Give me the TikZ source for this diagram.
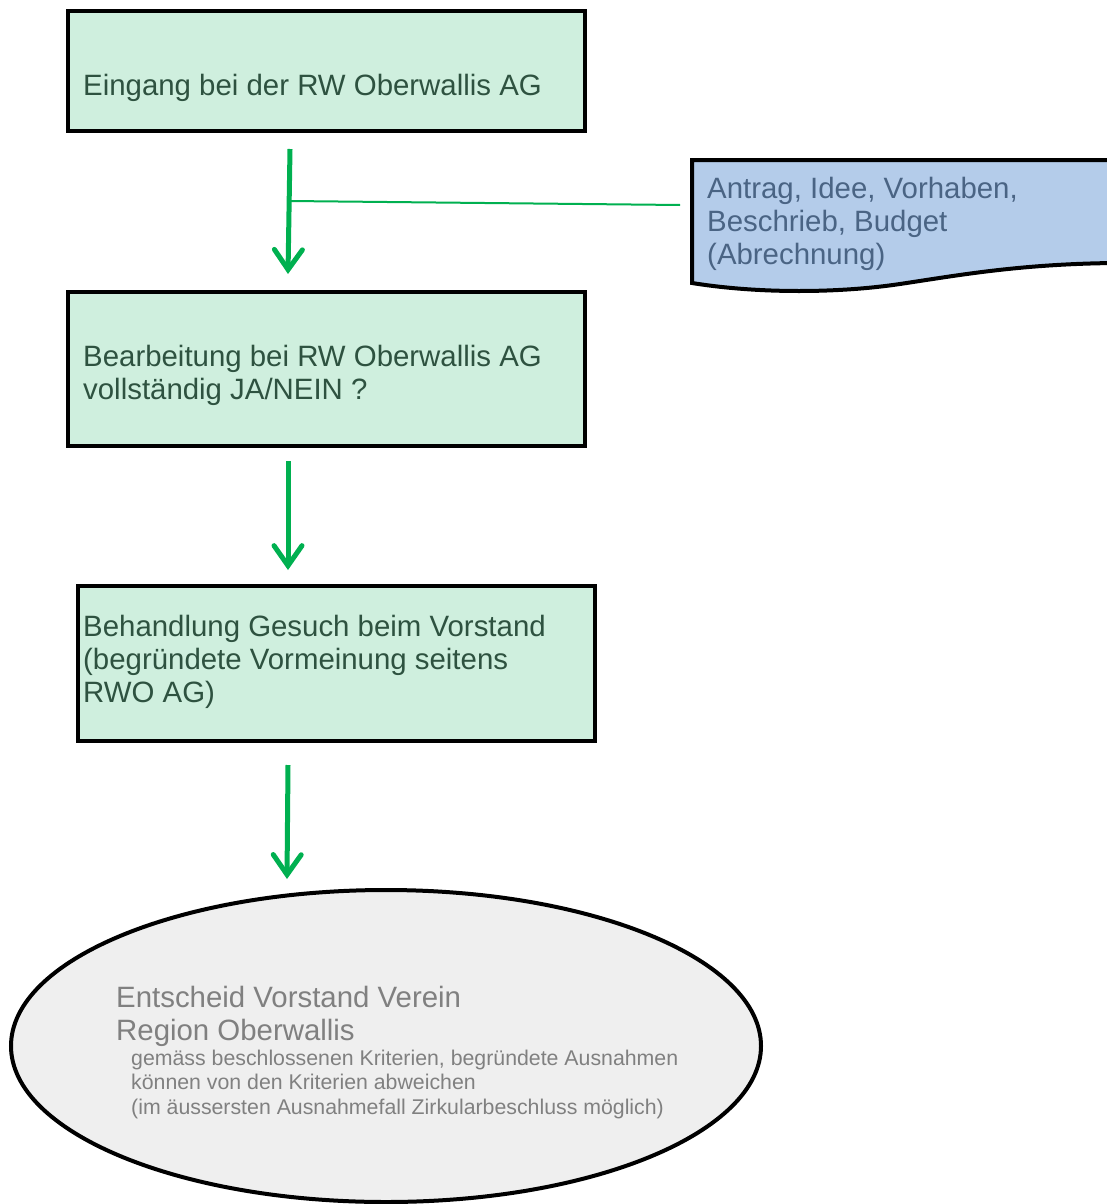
\documentclass[tikz,border=0pt]{standalone}
\usepackage{fontspec}
\setmainfont{Liberation Sans}
\usetikzlibrary{arrows.meta,shapes.geometric}
\definecolor{boxfill}{HTML}{CFEFDE}
\definecolor{boxtext}{HTML}{2E5240}
\definecolor{arrgreen}{HTML}{00B050}
\definecolor{docfill}{HTML}{B4CCEA}
\definecolor{doctext}{HTML}{4A6484}
\definecolor{ellfill}{HTML}{EFEFEF}
\definecolor{elltext}{HTML}{808080}
\tikzset{
  stepbox/.style={draw=black, line width=4pt, fill=boxfill, rectangle, inner sep=0pt},
  lbl/.style={anchor=north west, inner sep=0pt, align=left, font=\fontsize{29.4}{33}\selectfont},
  arr/.style={draw=arrgreen, line width=5pt, -{Straight Barb[length=20pt, width=28pt, line cap=round, line width=5pt]}},
}
\begin{document}
\begin{tikzpicture}[x=1pt,y=-1pt]
\useasboundingbox (0,0) rectangle (1107,1204);
% boxes
\node[stepbox, minimum width=517pt, minimum height=120pt] (b1) at (326.5,71) {};
\node[stepbox, minimum width=517pt, minimum height=154pt] (b2) at (326.5,369) {};
\node[stepbox, minimum width=517pt, minimum height=155pt] (b3) at (336.5,663.5) {};
\node[draw=black, line width=4pt, fill=ellfill, ellipse, minimum width=750pt, minimum height=312pt, inner sep=0pt] (e1) at (386,1046) {};
% document shape
\draw[line width=4pt, fill=docfill] (692,160) -- (1115,160) -- (1115,263)
  .. controls (1020,264) and (960,275) .. (900,284)
  .. controls (840,293) and (760,294) .. (692,283) -- cycle;
\coordinate (doc) at (680,205);
% texts
\node[lbl, text=boxtext] (t1) at (83,72) {\rule{0pt}{23pt}Eingang bei der RW Oberwallis AG};
\node[lbl, text=boxtext] (t2) at (83,343) {\rule{0pt}{23pt}Bearbeitung bei RW Oberwallis AG\\vollständig JA/NEIN ?};
\node[lbl, text=boxtext] (t3) at (83,613) {\rule{0pt}{23pt}Behandlung Gesuch beim Vorstand\\(begründete Vormeinung seitens\\RWO AG)};
\node[lbl, text=doctext] (t4) at (707,175) {\rule{0pt}{23pt}Antrag, Idee, Vorhaben,\\Beschrieb, Budget\\(Abrechnung)};
\node[lbl, text=elltext] (t5) at (116,984) {\rule{0pt}{23pt}Entscheid Vorstand Verein\\Region Oberwallis};
\node[lbl, text=elltext, font=\fontsize{21.3}{24.5}\selectfont] (t6) at (131,1048) {\rule{0pt}{17pt}gemäss beschlossenen Kriterien, begründete Ausnahmen\\können von den Kriterien abweichen\\(im äussersten Ausnahmefall Zirkularbeschluss möglich)};
% connectors
\coordinate (j) at (289.5,201);
\draw[arr] ([xshift=-36.5pt,yshift=-16pt]b1.south) -- ([xshift=-38.5pt,yshift=16pt]b2.north);
\draw[draw=arrgreen, line width=2pt] (j) -- (doc);
\draw[arr] ([xshift=-38.5pt,yshift=-13pt]b2.south) -- ([xshift=-48.5pt,yshift=14pt]b3.north);
\draw[arr] ([xshift=-48.5pt,yshift=-22pt]b3.south) -- ([xshift=-99pt,yshift=9pt]e1.north);
\end{tikzpicture}
\end{document}
